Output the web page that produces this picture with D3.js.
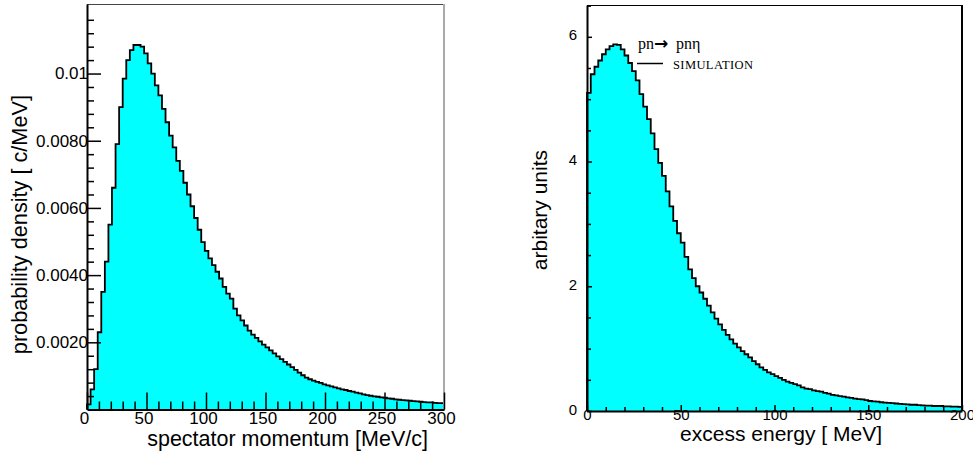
<!DOCTYPE html>
<html>
<head>
<meta charset="utf-8">
<script src="https://cdn.jsdelivr.net/npm/d3@7"></script>
<style>
body { margin: 0; background: #fff; }
svg { display: block; }
.hist { fill: #00ffff; stroke: #000; stroke-width: 1.8; }
</style>
</head>
<body>
<div id="chart"></div>
<script>
// spectator momentum, bins of 3 MeV/c, density in units of 0.001 c/MeV
var momBinWidth = 3;
var momDensity = [
  0.15, 0.6, 1.2, 2.3, 3.5, 4.4, 5.5, 6.6, 7.9, 9.0,
  9.85, 10.4, 10.7, 10.85, 10.85, 10.8, 10.6, 10.3, 10.0, 9.65,
  9.35, 8.95, 8.55, 8.15, 7.8, 7.4, 7.1, 6.75, 6.4, 6.05,
  5.7, 5.35, 4.98, 4.72, 4.5, 4.3, 4.1, 3.9, 3.65, 3.45,
  3.3, 3.0, 2.8, 2.65, 2.5, 2.35, 2.23, 2.13, 2.03, 1.93,
  1.85, 1.76, 1.67, 1.58, 1.5, 1.42, 1.34, 1.26, 1.18, 1.1,
  1.02, 0.95, 0.9, 0.86, 0.82, 0.79, 0.75, 0.72, 0.69, 0.66,
  0.63, 0.6, 0.58, 0.55, 0.53, 0.5, 0.48, 0.45, 0.43, 0.41,
  0.39, 0.38, 0.36, 0.35, 0.33, 0.32, 0.3, 0.29, 0.28, 0.27,
  0.26, 0.25, 0.24, 0.23, 0.22, 0.21, 0.21, 0.2, 0.19, 0.19
];

// excess energy, bins of 2 MeV, arbitrary units
var excBinWidth = 2;
var excValues = [
  5.1, 5.4, 5.52, 5.62, 5.72, 5.8, 5.85, 5.88, 5.87, 5.8,
  5.7, 5.58, 5.45, 5.3, 5.08, 4.88, 4.68, 4.45, 4.2, 3.98,
  3.77, 3.52, 3.28, 3.05, 2.85, 2.7, 2.47, 2.27, 2.13, 2.0,
  1.9, 1.8, 1.69, 1.58, 1.48, 1.39, 1.3, 1.22, 1.15, 1.08,
  1.02, 0.96, 0.91, 0.86, 0.8, 0.75, 0.7, 0.66, 0.62, 0.59,
  0.56, 0.53, 0.5, 0.47, 0.45, 0.43, 0.41, 0.38, 0.36, 0.35,
  0.33, 0.32, 0.31, 0.29, 0.28, 0.26, 0.25, 0.24, 0.23, 0.22,
  0.21, 0.2, 0.19, 0.185, 0.175, 0.16, 0.155, 0.15, 0.14, 0.135,
  0.13, 0.125, 0.12, 0.115, 0.11, 0.105, 0.1, 0.1, 0.095, 0.09,
  0.085, 0.085, 0.08, 0.08, 0.08, 0.075, 0.075, 0.07, 0.07, 0.065
];

// tick values and labels
var momXTicks = [0, 50, 100, 150, 200, 250, 300];
var momYTicks = [2, 4, 6, 8, 10];
var momYLabels = ["0.0020", "0.0040", "0.0060", "0.0080", "0.01"];
var excXTicks = [0, 50, 100, 150, 200];
var excYTicks = [0, 2, 4, 6];

var sans = "'Liberation Sans', Arial, Helvetica, sans-serif";
var serif = "'Liberation Serif', 'Times New Roman', serif";

var svg = d3.select("#chart").append("svg")
    .attr("width", 973)
    .attr("height", 455);

// scales
var xMom = d3.scaleLinear().domain([0, 300]).range([87, 444]);
var yMom = d3.scaleLinear().domain([0, 12.07]).range([409.5, 4]);
var xExc = d3.scaleLinear().domain([0, 200]).range([587, 962]);
var yExc = d3.scaleLinear().domain([0, 6.51]).range([411, 5]);

// outline of a histogram as steps, closed down to zero at both ends
function stepPoints(values, binWidth) {
  var pts = [[0, 0]];
  values.forEach(function(v, i) {
    pts.push([i * binWidth, v]);
    pts.push([(i + 1) * binWidth, v]);
  });
  pts.push([values.length * binWidth, 0]);
  return pts;
}

function drawHist(values, binWidth, x, y) {
  var line = d3.line()
    .x(function(d) { return x(d[0]); })
    .y(function(d) { return y(d[1]); });
  svg.append("path")
    .datum(stepPoints(values, binWidth))
    .attr("class", "hist")
    .attr("d", line);
}

drawHist(momDensity, momBinWidth, xMom, yMom);
drawHist(excValues, excBinWidth, xExc, yExc);

// frame lines (top and right)
svg.append("line")
  .attr("x1", xMom.range()[0]).attr("x2", xMom.range()[1])
  .attr("y1", yMom.range()[1] + 0.5).attr("y2", yMom.range()[1] + 0.5)
  .attr("stroke", "#444").attr("stroke-width", 1);
svg.append("line")
  .attr("x1", xMom.range()[1]).attr("x2", xMom.range()[1])
  .attr("y1", yMom.range()[1]).attr("y2", yMom.range()[0])
  .attr("stroke", "#aaa").attr("stroke-width", 2);
svg.append("line")
  .attr("x1", xExc.range()[0]).attr("x2", xExc.range()[1])
  .attr("y1", yExc.range()[1] + 0.5).attr("y2", yExc.range()[1] + 0.5)
  .attr("stroke", "#000").attr("stroke-width", 1);
svg.append("line")
  .attr("x1", xExc.range()[1]).attr("x2", xExc.range()[1])
  .attr("y1", yExc.range()[1]).attr("y2", yExc.range()[0])
  .attr("stroke", "#000").attr("stroke-width", 2);

// helper: style an axis, inward ticks
function styleAxis(g, size) {
  g.attr("font-family", sans).attr("font-size", size);
  g.selectAll(".tick line").attr("stroke", "#000").attr("stroke-width", 1.5);
  g.select(".domain").attr("stroke", "#000").attr("stroke-width", 2);
}
function minorAxis(axis, pos, ticks, len) {
  svg.append("g")
    .attr("transform", pos)
    .call(axis.tickValues(ticks).tickSize(-len).tickSizeOuter(0).tickFormat(""))
    .call(function(g) {
      g.select(".domain").remove();
      g.selectAll(".tick line").attr("stroke", "#000").attr("stroke-width", 1.5);
    });
}

// ---- left panel axes ----
var momMinorY = d3.range(1, 31).filter(function(i) { return i % 5 != 0; })
  .map(function(i) { return i * 0.4; });
var momMinorX = d3.range(1, 30).filter(function(i) { return i % 5 != 0; })
  .map(function(i) { return i * 10; });

minorAxis(d3.axisLeft(yMom), "translate(" + xMom(0) + ",0)", momMinorY, 7);
minorAxis(d3.axisBottom(xMom), "translate(0," + yMom(0) + ")", momMinorX, 8);

svg.append("g")
  .attr("transform", "translate(" + xMom(0) + ",0)")
  .call(d3.axisLeft(yMom).tickValues(momYTicks).tickSize(-14).tickSizeOuter(0)
    .tickPadding(-1)
    .tickFormat(function(d, i) { return momYLabels[i]; }))
  .call(function(g) { styleAxis(g, 17); });

svg.append("g")
  .attr("transform", "translate(0," + yMom(0) + ")")
  .call(d3.axisBottom(xMom).tickValues(momXTicks).tickSize(-17).tickSizeOuter(0)
    .tickPadding(2))
  .call(function(g) {
    styleAxis(g, 17);
    g.selectAll(".tick text").attr("dx", -3);
  });

svg.append("text")
  .attr("x", 428).attr("y", 446)
  .attr("text-anchor", "end")
  .attr("font-family", sans).attr("font-size", 21.5)
  .text("spectator momentum [MeV/c]");

svg.append("text")
  .attr("transform", "translate(27,95) rotate(-90)")
  .attr("text-anchor", "end")
  .attr("font-family", sans).attr("font-size", 21.7)
  .text("probability density [ c/MeV]");

// ---- right panel axes ----
var excMinorY = d3.range(1, 14).filter(function(i) { return i % 4 != 0; })
  .map(function(i) { return i * 0.5; });
var excMinorX = d3.range(1, 20).filter(function(i) { return i % 5 != 0; })
  .map(function(i) { return i * 10; });

minorAxis(d3.axisLeft(yExc), "translate(" + xExc(0) + ",0)", excMinorY, 4);
minorAxis(d3.axisBottom(xExc), "translate(0," + yExc(0) + ")", excMinorX, 4);

svg.append("g")
  .attr("transform", "translate(" + xExc(0) + ",0)")
  .call(d3.axisLeft(yExc).tickValues(excYTicks).tickSize(-5).tickSizeOuter(0)
    .tickPadding(10).tickFormat(d3.format("d")))
  .call(function(g) {
    styleAxis(g, 15);
    g.selectAll(".tick text").attr("dy", "0.2em");
  });

svg.append("g")
  .attr("transform", "translate(0," + yExc(0) + ")")
  .call(d3.axisBottom(xExc).tickValues(excXTicks).tickSize(-6).tickSizeOuter(0)
    .tickPadding(-2))
  .call(function(g) { styleAxis(g, 15); });

svg.append("text")
  .attr("x", 882).attr("y", 441)
  .attr("text-anchor", "end")
  .attr("font-family", sans).attr("font-size", 21)
  .text("excess energy [ MeV]");

svg.append("text")
  .attr("transform", "translate(547,150) rotate(-90)")
  .attr("text-anchor", "end")
  .attr("font-family", sans).attr("font-size", 21)
  .text("arbitary units");

// legend
var leg = svg.append("text")
  .attr("y", 49)
  .attr("font-family", serif).attr("font-size", 16);
leg.append("tspan").attr("x", 638).text("pn");
leg.append("tspan").attr("x", 654).attr("font-family", "'DejaVu Sans', sans-serif")
  .attr("font-size", 17).attr("font-weight", "bold").text("\u2192");
leg.append("tspan").attr("x", 676).text("pn\u03b7");

svg.append("line")
  .attr("x1", 637).attr("x2", 663)
  .attr("y1", 63.5).attr("y2", 63.5)
  .attr("stroke", "#000").attr("stroke-width", 1.5);
svg.append("text")
  .attr("x", 673).attr("y", 69)
  .attr("font-family", serif).attr("font-size", 12.5)
  .attr("letter-spacing", 0.4)
  .text("SIMULATION");
</script>
</body>
</html>
